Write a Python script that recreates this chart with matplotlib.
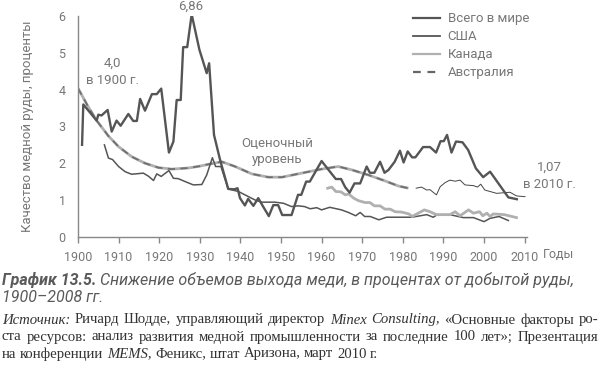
import matplotlib.pyplot as plt
from matplotlib.lines import Line2D

SANS = ['Roboto', 'DejaVu Sans']
SERIF = ['Liberation Serif', 'DejaVu Serif']

# thick jagged series
thickX = [1901.0, 1901.3, 1904.6, 1905.0, 1905.8, 1907.3, 1908.3, 1909.5, 1910.5, 1912.4,
          1913.6, 1914.5, 1915.3, 1916.5, 1918.2, 1919.4, 1920.5, 1922.4, 1923.5, 1924.3,
          1925.3, 1925.9, 1926.9, 1928.0, 1929.9, 1931.7, 1932.3, 1933.5, 1935.0, 1937.0,
          1938.5, 1939.3, 1939.9, 1941.1, 1941.9, 1943.2, 1944.4, 1945.6, 1947.0, 1948.1,
          1949.3, 1950.3, 1952.6, 1954.2, 1955.0, 1956.2, 1957.1, 1960.0, 1961.7, 1963.5,
          1964.8, 1965.8, 1966.9, 1968.1, 1969.5, 1971.1, 1971.9, 1973.0, 1974.4, 1975.5,
          1976.5, 1978.0, 1979.3, 1980.2, 1981.2, 1982.3, 1983.1, 1985.0, 1986.7, 1988.2,
          1989.3, 1990.1, 1990.9, 1992.0, 1993.1, 1994.7, 1996.1, 1998.0, 1999.8, 2001.5,
          2006.0, 2008.1]
thickY = [2.5, 3.6, 3.16, 3.32, 3.30, 3.45, 2.86, 3.16, 3.02, 3.34,
          3.15, 3.15, 3.75, 3.43, 3.88, 3.88, 4.03, 2.29, 2.59, 3.72,
          3.72, 5.16, 5.16, 6.05, 5.09, 4.45, 4.72, 2.77, 2.09, 1.3,
          1.29, 1.32, 1.05, 0.85, 1.03, 0.84, 1.05, 0.82, 0.56, 0.86,
          0.86, 0.59, 0.59, 1.14, 1.14, 1.5, 1.5, 2.06, 1.82, 1.57,
          1.57, 1.35, 1.2, 1.45, 1.45, 1.91, 1.74, 1.74, 2.04, 1.74,
          1.82, 2.04, 2.34, 2.02, 2.32, 2.16, 2.16, 2.44, 2.44, 2.29,
          2.6, 2.6, 2.77, 2.29, 2.59, 2.57, 2.36, 1.86, 1.62, 1.77,
          1.07, 1.02]

# medium dark series
usX = [1906.5, 1907.5, 1908.5, 1910.0, 1911.6, 1913.2, 1916.1, 1917.3, 1918.6, 1919.4,
       1920.5, 1921.3, 1922.4, 1923.5, 1924.7, 1926.4, 1928.4, 1930.5, 1931.7, 1933.1,
       1933.9, 1935.2, 1937.0, 1939.5, 1941.1, 1943.6, 1945.2, 1948.5, 1950.6, 1952.6,
       1954.2, 1955.8, 1957.2, 1958.8, 1960.0, 1962.0, 1964.9, 1966.6, 1968.4, 1969.5,
       1970.6, 1972.0, 1974.1, 1976.0, 1982.2, 1985.9, 1987.5, 1988.5, 1991.6, 1994.9,
       1997.4, 2000.0, 2001.5, 2003.7, 2006.0]
usY = [2.5, 2.14, 2.1, 1.91, 1.77, 1.7, 1.73, 1.65, 1.53, 1.71,
       1.64, 1.71, 1.8, 1.59, 1.58, 1.5, 1.41, 1.42, 1.68, 2.15,
       1.91, 1.91, 1.3, 1.23, 1.14, 1.0, 0.94, 0.94, 0.91, 0.82,
       0.84, 0.82, 0.76, 0.79, 0.73, 0.8, 0.73, 0.66, 0.57, 0.66,
       0.55, 0.55, 0.46, 0.53, 0.53, 0.6, 0.53, 0.6, 0.6, 0.52,
       0.52, 0.41, 0.5, 0.55, 0.44]

# light gray series
caX = [1961.5, 1962.5, 1963.5, 1964.8, 1965.8, 1966.7, 1967.9, 1969.1, 1970.7, 1971.9,
       1973.0, 1974.4, 1975.6, 1976.9, 1978.1, 1979.7, 1981.5, 1982.3, 1983.8, 1985.3,
       1986.7, 1988.3, 1991.6, 1992.9, 1994.1, 1996.2, 1997.4, 1998.9, 1999.7, 2000.7,
       2001.5, 2002.3, 2005.0, 2008.0]
caY = [1.32, 1.35, 1.23, 1.22, 1.14, 1.16, 1.05, 0.98, 0.93, 0.93,
       0.84, 0.84, 0.75, 0.75, 0.68, 0.67, 0.62, 0.55, 0.64, 0.73,
       0.68, 0.6, 0.6, 0.68, 0.57, 0.73, 0.64, 0.68, 0.57, 0.64,
       0.55, 0.62, 0.6, 0.52]

# smooth estimated level
estX = [1900.0, 1902.5, 1904.6, 1907.5, 1910.0, 1913.2, 1916.5, 1919.8, 1923.1, 1927.2,
        1930.0, 1932.1, 1935.4, 1938.7, 1942.8, 1946.9, 1950.2, 1955.1, 1960.0, 1964.1,
        1967.4, 1971.5, 1975.6, 1978.9, 1981.4]
estY = [4.04, 3.54, 3.16, 2.74, 2.45, 2.18, 2.0, 1.88, 1.84, 1.87,
        1.92, 1.97, 2.04, 1.91, 1.71, 1.62, 1.62, 1.73, 1.84, 1.91,
        1.82, 1.68, 1.52, 1.38, 1.32]

# thin world line
worldX = [1983.3, 1984.6, 1985.9, 1986.7, 1987.8, 1988.3, 1989.2, 1990.4, 1991.6, 1992.9,
          1994.1, 1995.3, 1997.4, 1998.4, 1999.2, 2000.2, 2001.5, 2003.1, 2006.4, 2008.0,
          2010.1]
worldY = [1.32, 1.35, 1.27, 1.28, 1.18, 1.14, 1.36, 1.47, 1.54, 1.51,
          1.54, 1.41, 1.39, 1.35, 1.43, 1.27, 1.23, 1.18, 1.21, 1.11,
          1.09]

legendLabels = ["Всего в мире", "США", "Канада", "Австралия"]
xticks = [1900, 1910, 1920, 1930, 1940, 1950, 1960, 1970, 1980, 1990, 2000, 2010]

dark = "#555555"
gray = "#777777"
light = "#b0b0b0"

fig = plt.figure(figsize=(6, 3.65), dpi=100)
ax = fig.add_axes([0.13, 0.3515, 0.7477, 0.604])

ax.plot(estX, estY, color=light, lw=2.0, solid_capstyle="butt")
ax.plot(estX, estY, color="#707070", lw=1.3, dashes=(4, 3))
ax.plot(usX, usY, color=dark, lw=1.1)
ax.plot(caX, caY, color=light, lw=2.0)
ax.plot(worldX, worldY, color="#444444", lw=0.7)
ax.plot(thickX, thickY, color=dark, lw=1.7)

ax.set_xlim(1900, 2010.5)
ax.set_ylim(0, 6)
ax.set_xticks(xticks)
ax.set_xticklabels([str(x) for x in xticks])
ax.set_yticks(range(7))
for s in ["top", "right"]:
    ax.spines[s].set_visible(False)
for s in ["left", "bottom"]:
    ax.spines[s].set_color("#888888")
    ax.spines[s].set_linewidth(1.0)
ax.tick_params(axis="x", length=4, width=1, color="#888888", pad=6, labelsize=9,
               labelcolor=gray)
ax.tick_params(axis="y", length=0, pad=9, labelsize=9, labelcolor=gray)
for t in ax.get_xticklabels() + ax.get_yticklabels():
    t.set_family(SANS)

ax.set_ylabel("Качество медной руды, проценты", family=SANS, fontsize=9.5, color=gray)
ax.yaxis.set_label_coords(-0.098, 0.5)

tkw = dict(family=SANS, color=gray, fontsize=9.5, ha="center", va="center")
fig.text(191 / 600, 1 - 6 / 365, "6,86", **tkw)
fig.text(112 / 600, 1 - 63 / 365, "4,0", **tkw)
fig.text(112 / 600, 1 - 80 / 365, "в 1900 г.", **tkw)
fig.text(277 / 600, 1 - 143 / 365, "Оценочный", **tkw)
fig.text(277 / 600, 1 - 160 / 365, "уровень", **tkw)
fig.text(549 / 600, 1 - 167 / 365, "1,07", **tkw)
fig.text(549 / 600, 1 - 184 / 365, "в 2010 г.", **tkw)
fig.text(543 / 600, 1 - 254 / 365, "Годы", family=SANS, color=gray, fontsize=9,
         ha="left", va="center")

handles = [Line2D([], [], color="#555555", lw=1.6),
           Line2D([], [], color="#555555", lw=1.3),
           Line2D([], [], color=light, lw=1.6),
           Line2D([], [], color="#666666", lw=1.6, dashes=(3.5, 3))]
leg = fig.legend(handles, legendLabels, loc="upper left", bbox_to_anchor=(408 / 600, 1 - 7 / 365),
                 frameon=False, handlelength=2.0, handletextpad=0.6, labelspacing=0.38,
                 prop={"family": SANS, "size": 9.5}, borderaxespad=0)
for t in leg.get_texts():
    t.set_color(gray)

# caption
capColor = "#5a5a5a"
fig.text(2 / 600, 1 - 280 / 365, "График 13.5.", family=SANS, style="italic", weight="bold",
         fontsize=11.5, color=capColor, va="center")
fig.canvas.draw()
r = fig.canvas.get_renderer()
bb = fig.texts[-1].get_window_extent(r)
fig.text((bb.x1 + 4) / 600, 1 - 280 / 365,
         "Снижение объемов выхода меди, в процентах от добытой руды,",
         family=SANS, style="italic", fontsize=11.5, color=capColor, va="center")
fig.text(2 / 600, 1 - 298 / 365, "1900–2008 гг.", family=SANS, style="italic",
         fontsize=11.5, color=capColor, va="center")

# source text, justified word by word
srcLines = [
    [("Источник:", True), ("Ричард", False), ("Шодде,", False), ("управляющий", False),
     ("директор", False), ("Minex", True), ("Consulting,", True), ("«Основные", False),
     ("факторы", False), ("ро-", False)],
    [("ста", False), ("ресурсов:", False), ("анализ", False), ("развития", False),
     ("медной", False), ("промышленности", False), ("за", False), ("последние", False),
     ("100", False), ("лет»;", False), ("Презентация", False)],
    [("на", False), ("конференции", False), ("MEMS,", True), ("Феникс,", False),
     ("штат", False), ("Аризона,", False), ("март", False), ("2010", False), ("г.", False)],
]
srcY = [320, 337, 354]
lineW = 596
for i, words in enumerate(srcLines):
    arts = []
    for w, it in words:
        arts.append(fig.text(0, 1 - srcY[i] / 365, w, family=SERIF, fontsize=10.6,
                             style="italic" if it else "normal", color="#333333",
                             va="center"))
    fig.canvas.draw()
    widths = [a.get_window_extent(r).width for a in arts]
    if i < len(srcLines) - 1:
        gap = (lineW - sum(widths)) / (len(words) - 1)
    else:
        gap = 3.6
    x = 2
    for a, w in zip(arts, widths):
        a.set_x(x / 600)
        x += w + gap

fig.savefig("out.png", dpi=100)
